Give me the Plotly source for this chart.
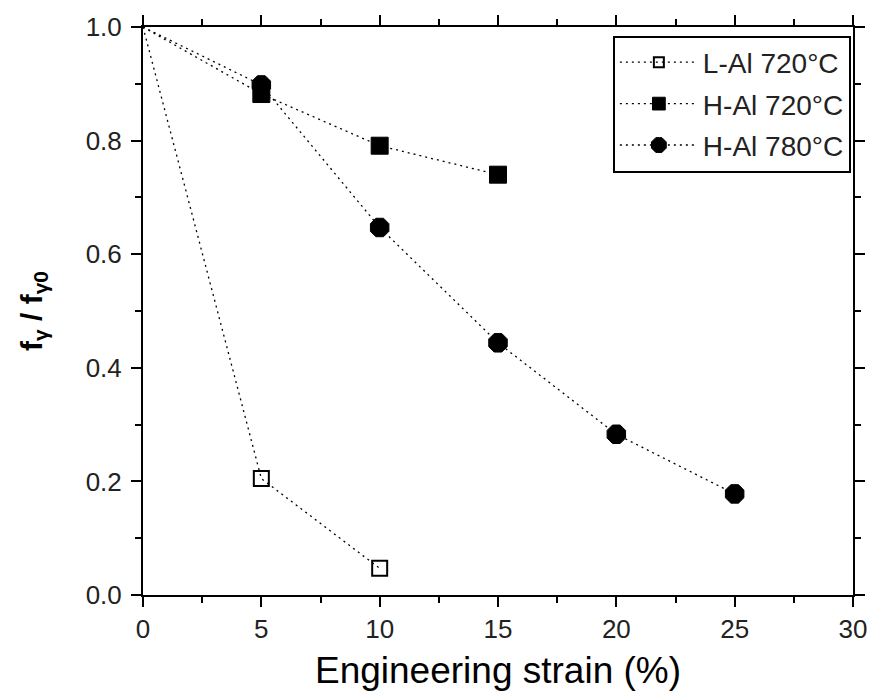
import plotly.graph_objects as go

x_lal = [0, 5, 10]
y_lal = [1.0, 0.205, 0.047]
x_h720 = [0, 5, 10, 15]
y_h720 = [1.0, 0.882, 0.791, 0.740]
x_h780 = [0, 5, 10, 15, 20, 25]
y_h780 = [1.0, 0.898, 0.647, 0.444, 0.283, 0.178]

FONT = "Liberation Sans, Arial, sans-serif"

fig = go.Figure()

def sizes(n, s):
    return [0] + [s] * (n - 1)

DOT = "2px,4px"

fig.add_trace(go.Scatter(
    x=x_lal, y=y_lal, mode="lines+markers", name="L-Al 720°C", legendgroup="a",
    line=dict(color="black", width=1.3, dash=DOT),
    marker=dict(symbol="square-open", size=sizes(len(x_lal), 15), color="black", opacity=1,
                line=dict(width=2, color="black")),
))
fig.add_trace(go.Scatter(
    x=x_h720, y=y_h720, mode="lines+markers", name="H-Al 720°C", legendgroup="b",
    line=dict(color="black", width=1.3, dash=DOT),
    marker=dict(symbol="square", size=sizes(len(x_h720), 17), color="black", opacity=1,
                line=dict(width=1, color="black")),
))
fig.add_trace(go.Scatter(
    x=x_h780, y=y_h780, mode="lines+markers", name="H-Al 780°C", legendgroup="c",
    line=dict(color="black", width=1.3, dash=DOT),
    marker=dict(symbol="octagon", size=sizes(len(x_h780), 20), color="black", opacity=1,
                line=dict(width=1, color="black")),
))

axis_common = dict(
    showline=True, linecolor="black", linewidth=2, mirror="ticks",
    ticks="outside", ticklen=10, tickwidth=1.5, tickcolor="black",
    showgrid=False, zeroline=False,
    tickfont=dict(family=FONT, size=26, color="#222"),
)

fig.update_xaxes(
    range=[0, 30], tickvals=[0, 5, 10, 15, 20, 25, 30],
    minor=dict(ticks="outside", ticklen=6, tickwidth=1.5, tickcolor="black", dtick=2.5, showgrid=False),
    title=dict(text="Engineering strain (%)", font=dict(family=FONT, size=37, color="black"), standoff=14),
    **axis_common,
)
fig.update_yaxes(
    range=[0, 1.0], tickvals=[0, 0.2, 0.4, 0.6, 0.8, 1.0], tickformat=".1f",
    minor=dict(ticks="outside", ticklen=6, tickwidth=1.5, tickcolor="black", dtick=0.1, showgrid=False),
    ticklabelstandoff=4,
    title=dict(text="<b>f<sub>γ</sub> / f<sub>γ0</sub></b>", font=dict(family=FONT, size=30, color="black"), standoff=34),
    **axis_common,
)

fig.update_layout(
    width=879, height=698,
    margin=dict(l=143, r=15, t=24, b=103),
    plot_bgcolor="white", paper_bgcolor="white",
    showlegend=True,
    legend=dict(
        x=0.997, y=0.985, xanchor="right", yanchor="top",
        bgcolor="white", bordercolor="black", borderwidth=2,
        font=dict(family=FONT, size=28, color="#222"),
        itemwidth=78, tracegroupgap=2,
    ),
)

fig.write_html(
    "out.html",
    config={"displayModeBar": False},
    post_script="document.body.style.margin='0px';document.body.style.overflow='hidden';",
)
